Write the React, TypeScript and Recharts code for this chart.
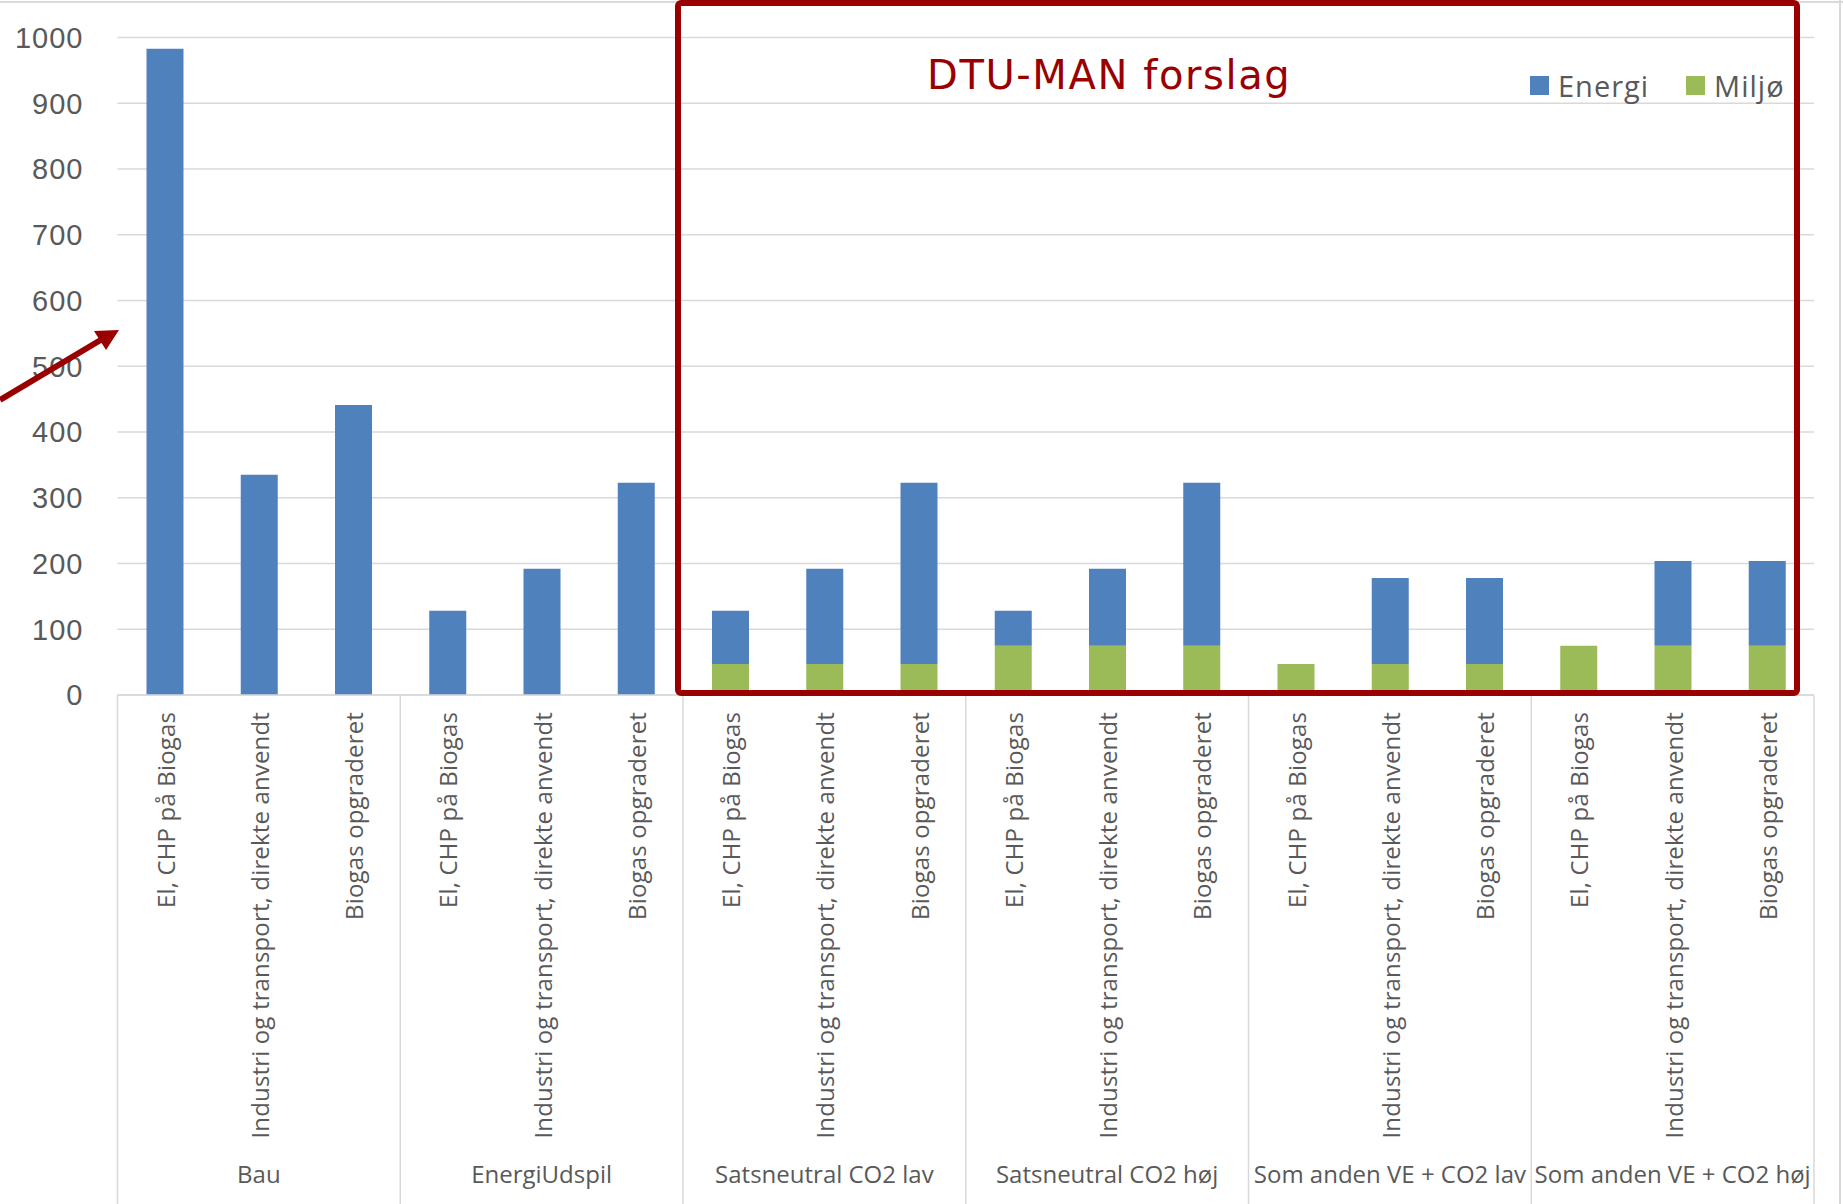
import React from 'react';
import { Bar, BarChart, CartesianGrid, Legend, XAxis, YAxis } from 'recharts';

// Category labels (inner x-axis level) and group labels (outer level)
const categories = [
    'El, CHP på Biogas',
    'Industri og transport, direkte anvendt',
    'Biogas opgraderet',
];
const groups = [
    'Bau',
    'EnergiUdspil',
    'Satsneutral CO2 lav',
    'Satsneutral CO2 høj',
    'Som anden VE + CO2 lav',
    'Som anden VE + CO2 høj',
];

// Stacked values: Miljø at the bottom, Energi on top
const miljo = [0, 0, 0, 0, 0, 0, 47, 47, 47, 75, 75, 75, 47, 47, 47, 75, 75, 75];
const energi = [983, 335, 441, 128, 192, 323, 81, 145, 276, 53, 117, 248, 0, 131, 131, 0, 129, 129];

const yTicks = [0, 100, 200, 300, 400, 500, 600, 700, 800, 900, 1000];

const W = 1843;
const H = 1204;
const PLOT_LEFT = 117.5;
const PLOT_RIGHT = 1814;
const X_AXIS_H = 509;
const STEP = (PLOT_RIGHT - PLOT_LEFT) / 18;

const BLUE = '#4f81bd';
const GREEN = '#9bbb59';
const RED = '#9a0000';
const TEXT = '#595959';
const GRID = '#d9d9d9';

const data = energi.map((e, i) => ({
    key: `c${i}`,
    label: categories[i % 3],
    group: groups[Math.floor(i / 3)],
    Energi: e,
    Miljø: miljo[i],
}));

function CategoryTick(props: any) {
    const { x, y, index } = props;
    const row = data[index];
    return (
        <g>
            <text
                transform={`translate(${x + 10},${y + 17}) rotate(-90)`}
                textAnchor="end"
                fill={TEXT}
                fontSize={24}
                letterSpacing={0.15}
                fontFamily="Open Sans"
            >
                {row.label}
            </text>
            {index % 3 === 0 && (
                <line x1={x - STEP / 2} x2={x - STEP / 2} y1={y} y2={y + X_AXIS_H} stroke={GRID} strokeWidth={1.5} />
            )}
            {index === data.length - 1 && (
                <line x1={x + STEP / 2} x2={x + STEP / 2} y1={y} y2={y + X_AXIS_H} stroke={GRID} strokeWidth={1.5} />
            )}
            {index % 3 === 1 && (
                <text x={x} y={y + 488} textAnchor="middle" fill={TEXT} fontSize={24} fontFamily="Open Sans">
                    {row.group}
                </text>
            )}
        </g>
    );
}

function LegendContent() {
    const items = [
        { name: 'Energi', color: BLUE },
        { name: 'Miljø', color: GREEN },
    ];
    return (
        <div
            style={{
                display: 'flex',
                alignItems: 'center',
                fontFamily: 'Open Sans',
                fontSize: 29,
                letterSpacing: 1,
                color: TEXT,
            }}
        >
            {items.map((it, i) => (
                <div key={it.name} style={{ display: 'flex', alignItems: 'center', marginLeft: i ? 37 : 0 }}>
                    <span style={{ width: 19, height: 19, background: it.color, display: 'inline-block', marginRight: 9 }} />
                    <span>{it.name}</span>
                </div>
            ))}
        </div>
    );
}

export default function App() {
    return (
        <div style={{ position: 'absolute', left: 0, top: 0, width: W, height: H, background: '#fff' }}>
            <BarChart
                width={W}
                height={H}
                data={data}
                margin={{ top: 37.6, right: W - PLOT_RIGHT, left: 0, bottom: 0 }}
                barSize={37}
            >
                <CartesianGrid vertical={false} stroke={GRID} strokeWidth={1.5} />
                <XAxis
                    dataKey="key"
                    interval={0}
                    height={X_AXIS_H}
                    axisLine={{ stroke: GRID, strokeWidth: 1.5 }}
                    tickLine={false}
                    tickSize={0}
                    tickMargin={0}
                    tick={<CategoryTick />}
                />
                <YAxis
                    domain={[0, 1000]}
                    ticks={yTicks}
                    interval={0}
                    width={PLOT_LEFT}
                    axisLine={false}
                    tickLine={false}
                    tickSize={0}
                    tickMargin={34}
                    tick={{ fill: TEXT, fontSize: 29, fontFamily: 'Liberation Sans', letterSpacing: 1 }}
                />
                <Legend
                    layout="horizontal"
                    verticalAlign="middle"
                    align="center"
                    content={<LegendContent />}
                    wrapperStyle={{ top: 66, left: 1530, width: 310 }}
                />
                <Bar dataKey="Miljø" stackId="a" fill={GREEN} isAnimationActive={false} />
                <Bar dataKey="Energi" stackId="a" fill={BLUE} isAnimationActive={false} />
            </BarChart>
            {/* annotation overlay: frame, title, arrow */}
            <svg width={W} height={H} style={{ position: 'absolute', left: 0, top: 0, pointerEvents: 'none' }}>
                <line x1={0} x2={W} y1={2} y2={2} stroke={GRID} strokeWidth={2} />
                <line x1={1840} x2={1840} y1={0} y2={H} stroke={GRID} strokeWidth={2} />
                <rect x={678} y={3} width={1119} height={690} rx={3} fill="none" stroke={RED} strokeWidth={6} />
                <text x={927} y={89} fill={RED} fontSize={40} fontFamily="DejaVu Sans" letterSpacing={1.6}>
                    DTU-MAN forslag
                </text>
                <line x1={0} y1={400} x2={104} y2={338} stroke={RED} strokeWidth={6} />
                <polygon points="119,330 94,331 106,350" fill={RED} />
            </svg>
        </div>
    );
}
